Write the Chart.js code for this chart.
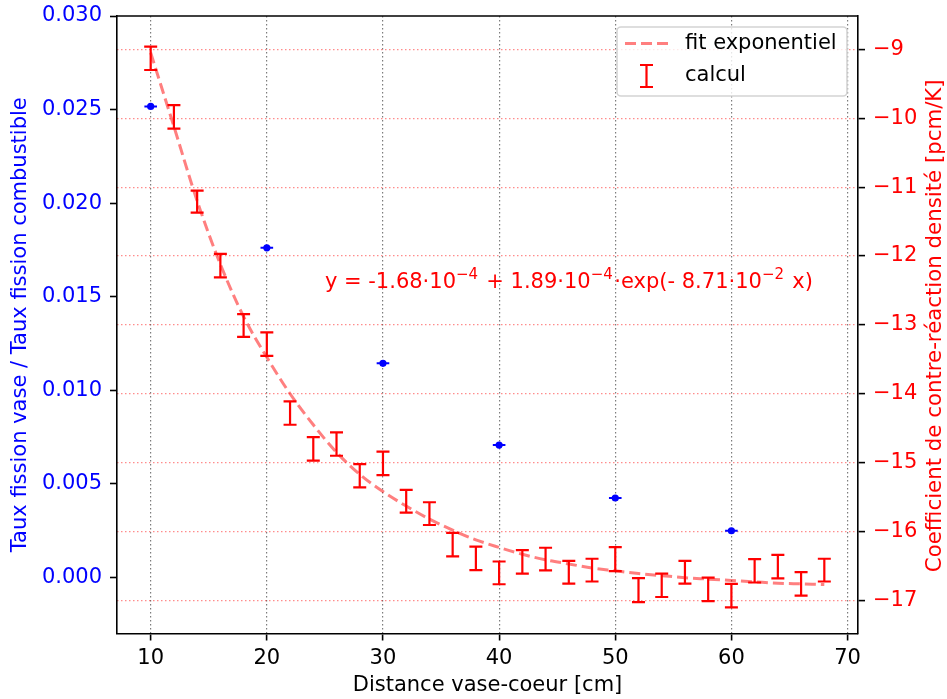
<!DOCTYPE html>
<html>
<head>
<meta charset="utf-8">
<script src="https://cdn.jsdelivr.net/npm/chart.js@4.4.0/dist/chart.umd.min.js"></script>
<style>
  body { margin: 0; background: #fff; }
  #wrap { width: 947px; height: 699px; }
</style>
</head>
<body>
<div id="wrap"><canvas id="myChart" width="947" height="699"></canvas></div>
<script>
// rapport des taux de fission (axe gauche)
let blueX = [10, 20, 30, 40, 50, 60];
let blueY = [0.02517, 0.01761, 0.01144, 0.00707, 0.00424, 0.00249];

// coefficient de contre-reaction calcule (axe droit) + barres d'erreur
let calcX = [10, 12, 14, 16, 18, 20, 22, 24, 26, 28, 30, 32, 34, 36, 38,
             40, 42, 44, 46, 48, 50, 52, 54, 56, 58, 60, 62, 64, 66, 68];
let calcY = [-9.13, -9.98, -11.21, -12.14, -13.01, -13.28, -14.28, -14.80, -14.73, -15.19,
             -15.01, -15.56, -15.74, -16.19, -16.39, -16.60, -16.44, -16.40, -16.59, -16.56,
             -16.40, -16.85, -16.78, -16.59, -16.84, -16.93, -16.57, -16.51, -16.76, -16.56];
let calcErr = [0.17, 0.17, 0.16, 0.17, 0.165, 0.17, 0.17, 0.17, 0.17, 0.17,
               0.17, 0.165, 0.165, 0.17, 0.17, 0.165, 0.17, 0.165, 0.165, 0.165,
               0.175, 0.175, 0.17, 0.165, 0.17, 0.17, 0.17, 0.17, 0.17, 0.165];

// fit exponentiel
let fitX = [10, 12, 14, 16, 18, 20, 22, 24, 26, 28, 30, 32, 34, 36, 38,
            40, 42, 44, 46, 48, 50, 52, 54, 56, 58, 60, 62, 64, 66, 68];
let fitY = [-9.05, -10.12, -11.2, -12.12, -12.88, -13.47, -14.0, -14.45, -14.85, -15.17,
            -15.42, -15.63, -15.82, -15.98, -16.12, -16.23, -16.33, -16.41, -16.47, -16.53,
            -16.57, -16.61, -16.64, -16.67, -16.69, -16.71, -16.73, -16.75, -16.76, -16.77];

let xTicks = [10, 20, 30, 40, 50, 60, 70];
let leftTicks = [0, 0.005, 0.010, 0.015, 0.020, 0.025, 0.030];
let rightTicks = [-17, -16, -15, -14, -13, -12, -11, -10, -9];

Chart.defaults.font.family = '"DejaVu Sans", sans-serif';
Chart.defaults.font.size = 21;
Chart.defaults.color = 'black';

function minusSign(v) {
    return (v < 0 ? '\u2212' : '') + Math.abs(v);
}

// pas de marge auto autour des axes, la zone de trace est fixee a la main
function noPad(s) {
    s.paddingTop = 0; s.paddingBottom = 0; s.paddingLeft = 0; s.paddingRight = 0;
}

const extras = {
    id: 'extras',
    afterDatasetsDraw(chart) {
        const ctx = chart.ctx;
        const sx = chart.scales.x;
        const sy = chart.scales.y2;
        ctx.save();
        ctx.strokeStyle = 'red';
        ctx.lineWidth = 2.2;
        for (let i = 0; i < calcX.length; i++) {
            const px = sx.getPixelForValue(calcX[i]);
            const top = sy.getPixelForValue(calcY[i] + calcErr[i]);
            const bot = sy.getPixelForValue(calcY[i] - calcErr[i]);
            ctx.beginPath();
            ctx.moveTo(px, top); ctx.lineTo(px, bot);
            ctx.moveTo(px - 6.5, top); ctx.lineTo(px + 6.5, top);
            ctx.moveTo(px - 6.5, bot); ctx.lineTo(px + 6.5, bot);
            ctx.stroke();
        }
        ctx.restore();
    },
    afterDraw(chart) {
        const ctx = chart.ctx;
        const a = chart.chartArea;
        ctx.save();
        // cadre du haut
        ctx.strokeStyle = 'black';
        ctx.lineWidth = 1.6;
        ctx.beginPath();
        ctx.moveTo(a.left, a.top); ctx.lineTo(a.right, a.top);
        ctx.stroke();

        // legende
        const lx = a.right - 241, ly = a.top + 11;
        ctx.beginPath();
        ctx.roundRect(lx, ly, 230, 69, 4);
        ctx.fillStyle = 'rgba(255,255,255,0.8)';
        ctx.fill();
        ctx.strokeStyle = '#d4d4d4';
        ctx.lineWidth = 1.6;
        ctx.stroke();
        ctx.setLineDash([11, 5]);
        ctx.strokeStyle = 'rgba(255,0,0,0.5)';
        ctx.lineWidth = 3;
        ctx.beginPath();
        ctx.moveTo(lx + 8, ly + 16.5); ctx.lineTo(lx + 52, ly + 16.5);
        ctx.stroke();
        ctx.setLineDash([]);
        ctx.strokeStyle = 'red';
        ctx.lineWidth = 2.2;
        const ex = lx + 29.5;
        ctx.beginPath();
        ctx.moveTo(ex, ly + 38); ctx.lineTo(ex, ly + 60);
        ctx.moveTo(ex - 6.5, ly + 38); ctx.lineTo(ex + 6.5, ly + 38);
        ctx.moveTo(ex - 6.5, ly + 60); ctx.lineTo(ex + 6.5, ly + 60);
        ctx.stroke();
        ctx.fillStyle = 'black';
        ctx.font = '21px "DejaVu Sans"';
        ctx.textBaseline = 'middle';
        ctx.textAlign = 'left';
        ctx.fillText('fit exponentiel', lx + 68, ly + 17);
        ctx.fillText('calcul', lx + 68, ly + 49);

        // equation du fit
        const parts = [['y = -1.68\u00b710', false], ['\u22124', true], [' + 1.89\u00b710', false],
                       ['\u22124', true], ['\u00b7exp(- 8.71\u00b710', false], ['\u22122', true], [' x)', false]];
        let tx = chart.scales.x.getPixelForValue(25);
        const ty = chart.scales.y2.getPixelForValue(-12.47);
        ctx.fillStyle = 'red';
        ctx.textBaseline = 'alphabetic';
        for (const [txt, sup] of parts) {
            ctx.font = sup ? '15px "DejaVu Sans"' : '21px "DejaVu Sans"';
            ctx.fillText(txt, tx, sup ? ty - 9.5 : ty);
            tx += ctx.measureText(txt).width + (sup ? 1.5 : 0);
        }

        // titre de l'axe droit (lu de bas en haut)
        ctx.translate(chart.width - 12, (a.top + a.bottom) / 2 + 1);
        ctx.rotate(-Math.PI / 2);
        ctx.textAlign = 'center';
        ctx.textBaseline = 'middle';
        ctx.font = '21.3px "DejaVu Sans"';
        ctx.fillText('Coefficient de contre-r\u00e9action densit\u00e9 [pcm/K]', 0, 0);
        ctx.restore();
    }
};

var ctx = document.getElementById('myChart').getContext('2d');
var myChart = new Chart(ctx, {
    type: 'scatter',
    data: {
        datasets: [{
            label: 'calcul',
            data: calcX.map((x, i) => ({x: x, y: calcY[i]})),
            yAxisID: 'y2',
            pointRadius: 0,
            order: 0
        },
        {
            label: 'fit exponentiel',
            data: fitX.map((x, i) => ({x: x, y: fitY[i]})),
            yAxisID: 'y2',
            showLine: true,
            borderColor: 'rgba(255,0,0,0.5)',
            borderWidth: 3,
            borderDash: [11, 5],
            cubicInterpolationMode: 'monotone',
            pointRadius: 0,
            order: 1
        },
        {
            label: 'taux',
            data: blueX.map((x, i) => ({x: x, y: blueY[i]})),
            yAxisID: 'y',
            pointRadius: 3.6,
            backgroundColor: 'blue',
            borderColor: 'blue',
            borderWidth: 0,
            order: 2
        },
        {
            label: 'taux-cap',
            data: blueX.map((x, i) => ({x: x, y: blueY[i]})),
            yAxisID: 'y',
            pointStyle: 'line',
            pointRadius: 6.3,
            borderColor: 'blue',
            pointBorderWidth: 2,
            order: 3
        }]
    },
    options: {
        responsive: false,
        animation: false,
        layout: { padding: { top: 16, right: 0, left: 0, bottom: 0 } },
        plugins: {
            legend: { display: false },
            tooltip: { enabled: false }
        },
        scales: {
            x: {
                type: 'linear',
                min: 7.1,
                max: 70.9,
                afterBuildTicks: (s) => { s.ticks = xTicks.map(v => ({value: v})); },
                afterFit: (s) => { s.height = 65.5; noPad(s); },
                ticks: { color: 'black', padding: 5, callback: (v) => v },
                grid: { color: 'rgba(110,110,110,0.9)', lineWidth: 1.2, tickLength: 7, tickWidth: 1.6, tickColor: 'black' },
                border: { color: 'black', width: 1.6, dash: [1.5, 2.5] },
                title: { display: true, text: 'Distance vase-coeur [cm]', color: 'black', padding: { bottom: 1, top: 0 } }
            },
            y: {
                type: 'linear',
                position: 'left',
                min: -0.003,
                max: 0.030,
                afterBuildTicks: (s) => { s.ticks = leftTicks.map(v => ({value: v})); },
                afterFit: (s) => { s.width = 117; noPad(s); },
                ticks: { color: 'blue', padding: 8, callback: (v) => v.toFixed(3) },
                grid: { drawOnChartArea: false, tickLength: 7, tickWidth: 1.6, tickColor: 'black' },
                border: { color: 'black', width: 1.6 },
                title: { display: true, text: 'Taux fission vase / Taux fission combustible', color: 'blue', padding: { top: 8, bottom: 0 } }
            },
            y2: {
                type: 'linear',
                position: 'right',
                min: -17.48,
                max: -8.516,
                afterBuildTicks: (s) => { s.ticks = rightTicks.map(v => ({value: v})); },
                afterFit: (s) => { s.width = 89; noPad(s); },
                ticks: { color: 'red', padding: 8, callback: minusSign },
                grid: { drawOnChartArea: true, color: 'rgba(255,0,0,0.45)', lineWidth: 1.2, tickLength: 7, tickWidth: 1.6, tickColor: 'black' },
                border: { color: 'black', width: 1.6, dash: [1.5, 2.5] },
                title: { display: false }
            }
        }
    },
    plugins: [extras]
});
</script>
</body>
</html>
